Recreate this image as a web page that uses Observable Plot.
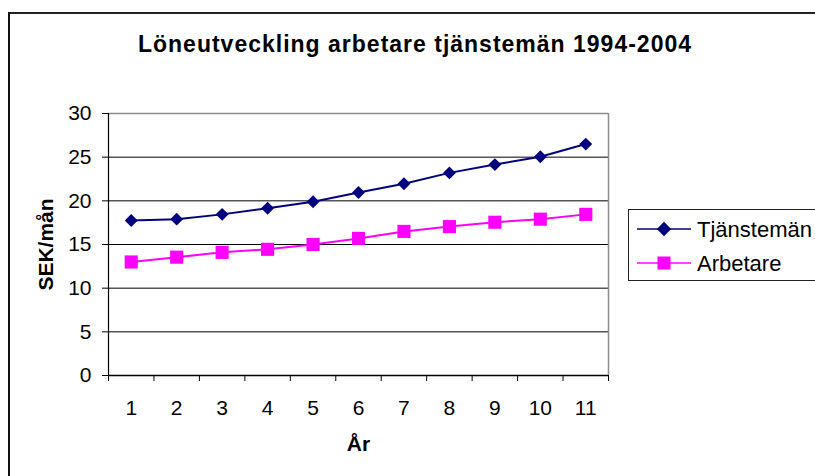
<!DOCTYPE html>
<html>
<head>
<meta charset="utf-8">
<script src="https://cdn.jsdelivr.net/npm/d3@7"></script>
<script src="https://cdn.jsdelivr.net/npm/@observablehq/plot@0.6"></script>
<style>
  html, body { margin: 0; padding: 0; background: #fff; }
  #wrap { position: relative; width: 815px; height: 476px; overflow: hidden; font-family: "Liberation Sans", Arial, sans-serif; }
  #frame { position: absolute; left: 8px; top: 12px; width: 900px; height: 600px; border-top: 2px solid #222; border-left: 2px solid #111; box-sizing: border-box; }
  #title { position: absolute; left: 0; width: 830px; top: 31px; text-align: center; font-weight: bold; font-size: 23px; letter-spacing: 1px; color: #000; }
  #chart { position: absolute; left: 0; top: 0; }
  #legend { position: absolute; left: 628px; top: 209px; width: 200px; height: 72px; border: 1px solid #222; box-sizing: border-box; background: #fff; }
</style>
</head>
<body>
<div id="wrap">
  <div id="frame"></div>
  <div id="chart"></div>
  <div id="title">Löneutveckling arbetare tjänstemän 1994-2004</div>
  <div id="legend"></div>
</div>
<script>
// ---- data ----
const years = [1, 2, 3, 4, 5, 6, 7, 8, 9, 10, 11];
const tjanstemanValues = [17.75, 17.9, 18.45, 19.15, 19.9, 20.95, 21.95, 23.2, 24.15, 25.05, 26.5];
const arbetareValues = [13.0, 13.55, 14.1, 14.45, 15.0, 15.7, 16.5, 17.05, 17.55, 17.9, 18.45];
const seriesNames = ["Tjänstemän", "Arbetare"];
const seriesColors = ["#000080", "#FF00FF"];
const yTicks = [0, 5, 10, 15, 20, 25, 30];
const chartTitle = "Löneutveckling arbetare tjänstemän 1994-2004";
const yLabel = "SEK/mån";
const xLabel = "År";

const tData = years.map((x, i) => ({x, y: tjanstemanValues[i]}));
const aData = years.map((x, i) => ({x, y: arbetareValues[i]}));
const xMin = years[0] - 0.5, xMax = years[years.length - 1] + 0.5;
const boundaries = [xMin, ...years.map(y => y + 0.5)];
const yMax = yTicks[yTicks.length - 1];

const chart = Plot.plot({
  width: 815,
  height: 476,
  marginLeft: 108,
  marginRight: 207,
  marginTop: 113,
  marginBottom: 101,
  style: {fontFamily: "'Liberation Sans', Arial, sans-serif", background: "transparent", color: "#000"},
  x: {type: "linear", domain: [xMin, xMax]},
  y: {domain: [0, yMax]},
  marks: [
    Plot.gridY(yTicks.filter(d => d > 0 && d < yMax), {stroke: "#000", strokeOpacity: 1}),
    Plot.ruleY([yMax], {stroke: "#8c8c8c", strokeWidth: 1.5}),
    Plot.ruleX([xMax], {stroke: "#8c8c8c", strokeWidth: 1.5}),
    Plot.axisY({ticks: yTicks, tickSize: 6, tickPadding: 11, fontSize: 21, label: null, tickFormat: d => String(d)}),
    Plot.axisX({ticks: boundaries, tickSize: 6, tickFormat: () => "", label: null}),
    Plot.axisX({ticks: years, tickSize: 0, tickPadding: 25, fontSize: 21, label: null, tickFormat: d => String(d)}),
    Plot.ruleX([xMin], {stroke: "#000", strokeWidth: 1.2}),
    Plot.ruleY([0], {stroke: "#000", strokeWidth: 1.5}),
    Plot.line(tData, {x: "x", y: "y", stroke: seriesColors[0], strokeWidth: 2}),
    Plot.dot(tData, {x: "x", y: "y", symbol: "diamond2", r: 5.8, fill: seriesColors[0], stroke: null}),
    Plot.line(aData, {x: "x", y: "y", stroke: seriesColors[1], strokeWidth: 2}),
    Plot.dot(aData, {x: "x", y: "y", symbol: "square", r: 7.4, fill: seriesColors[1], stroke: null}),
    Plot.text([yLabel], {frameAnchor: "left", textAnchor: "middle", dx: -62, rotate: -90, fontWeight: "bold", fontSize: 21}),
    Plot.text([xLabel], {frameAnchor: "bottom", dy: 75, fontWeight: "bold", fontSize: 21})
  ]
});
document.getElementById("chart").appendChild(chart);
document.getElementById("title").textContent = chartTitle;

// legend
const leg = d3.select("#legend").append("svg").attr("width", 200).attr("height", 72)
  .style("font-family", "'Liberation Sans', Arial, sans-serif");
const symPaths = [d3.symbol(d3.symbolDiamond2, 130)(), d3.symbol(d3.symbolSquare, 170)()];
seriesNames.forEach((name, i) => {
  const cy = 19 + i * 34;
  const g = leg.append("g");
  g.append("line").attr("x1", 8).attr("x2", 62).attr("y1", cy).attr("y2", cy)
    .attr("stroke", seriesColors[i]).attr("stroke-width", 1.5);
  g.append("path").attr("d", symPaths[i]).attr("transform", `translate(35,${cy})`).attr("fill", seriesColors[i]);
  g.append("text").attr("x", 68).attr("y", cy).attr("dy", "0.35em").attr("font-size", 22).text(name);
});
</script>
</body>
</html>
